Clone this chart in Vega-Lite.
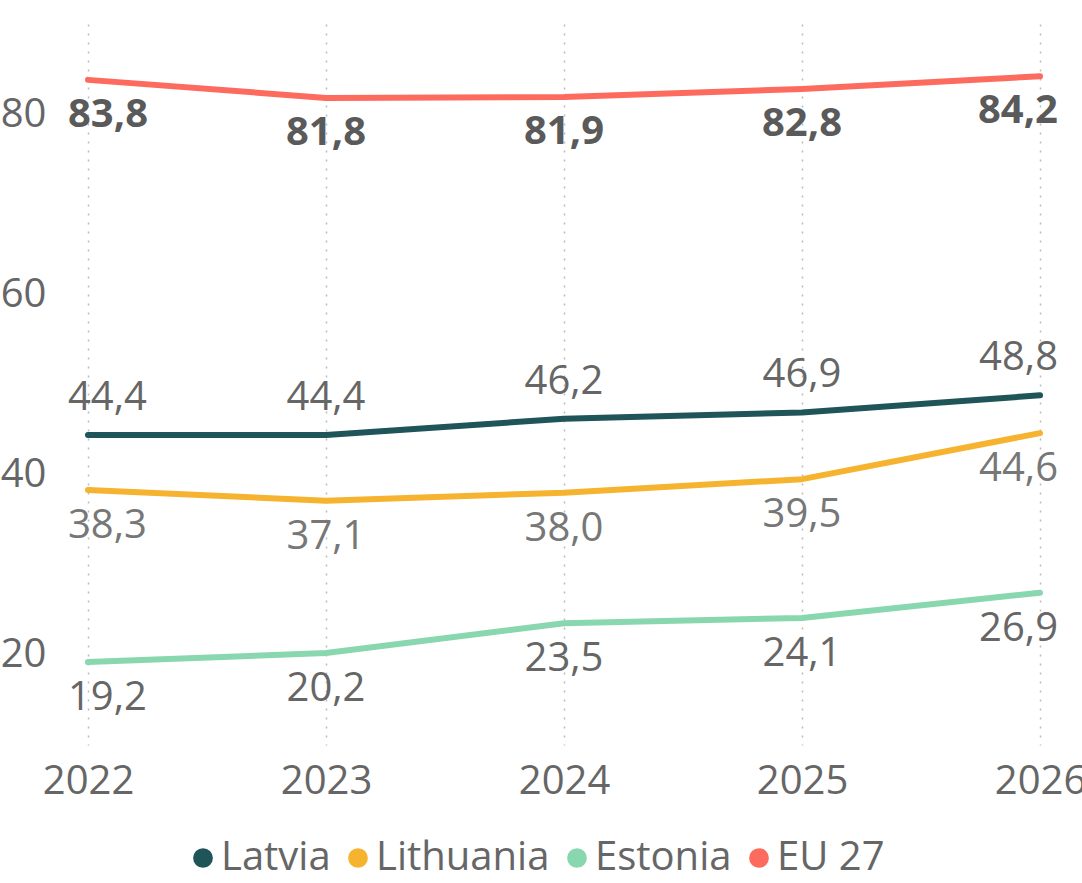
{
  "$schema": "https://vega.github.io/schema/vega-lite/v6.json",
  "width": 952,
  "height": 721,
  "autosize": {"type": "none"},
  "padding": {"left": 88, "top": 24, "right": 42, "bottom": 138},
  "background": "white",
  "config": {
    "locale": {"number": {"decimal": ",", "thousands": " ", "grouping": [3], "currency": ["", " €"]}},
    "view": {"stroke": null},
    "font": "Open Sans"
  },
  "data": {
    "values": [
      {"year": 2022, "series": "Latvia", "value": 44.4},
      {"year": 2023, "series": "Latvia", "value": 44.4},
      {"year": 2024, "series": "Latvia", "value": 46.2},
      {"year": 2025, "series": "Latvia", "value": 46.9},
      {"year": 2026, "series": "Latvia", "value": 48.8},
      {"year": 2022, "series": "Lithuania", "value": 38.3},
      {"year": 2023, "series": "Lithuania", "value": 37.1},
      {"year": 2024, "series": "Lithuania", "value": 38.0},
      {"year": 2025, "series": "Lithuania", "value": 39.5},
      {"year": 2026, "series": "Lithuania", "value": 44.6},
      {"year": 2022, "series": "Estonia", "value": 19.2},
      {"year": 2023, "series": "Estonia", "value": 20.2},
      {"year": 2024, "series": "Estonia", "value": 23.5},
      {"year": 2025, "series": "Estonia", "value": 24.1},
      {"year": 2026, "series": "Estonia", "value": 26.9},
      {"year": 2022, "series": "EU 27", "value": 83.8},
      {"year": 2023, "series": "EU 27", "value": 81.8},
      {"year": 2024, "series": "EU 27", "value": 81.9},
      {"year": 2025, "series": "EU 27", "value": 82.8},
      {"year": 2026, "series": "EU 27", "value": 84.2}
    ]
  },
  "encoding": {
    "x": {
      "field": "year", "type": "quantitative",
      "scale": {"domain": [2022, 2026], "nice": false, "zero": false},
      "axis": {
        "title": null, "values": [2022, 2023, 2024, 2025, 2026], "format": "d",
        "domain": false, "ticks": false,
        "labelFontSize": 40, "labelColor": "#666666", "labelPadding": 16,
        "labelFont": "Open Sans", "labelFlush": false, "labelOverlap": false,
        "grid": true, "gridColor": "#bbbbbb", "gridDash": [2, 7], "gridWidth": 1.5
      }
    },
    "y": {
      "field": "value", "type": "quantitative",
      "scale": {"domain": [10, 90], "nice": false, "zero": false},
      "axis": {
        "title": null, "values": [20, 40, 60, 80], "format": "d",
        "domain": false, "ticks": false, "grid": false,
        "labelFontSize": 40, "labelColor": "#666666", "labelPadding": 42,
        "labelFont": "Open Sans"
      }
    }
  },
  "layer": [
    {
      "mark": {"type": "line", "strokeWidth": 6, "strokeCap": "round", "strokeJoin": "round"},
      "encoding": {
        "color": {
          "field": "series", "type": "nominal",
          "scale": {"domain": ["Latvia", "Lithuania", "Estonia", "EU 27"], "range": ["#1f5459", "#f6b32f", "#89d7ae", "#fd6b5f"]},
          "legend": {
            "title": null, "orient": "none", "direction": "horizontal",
            "legendX": 95, "legendY": 814,
            "symbolType": "circle", "symbolSize": 400, "symbolStrokeWidth": 0, "symbolOpacity": 1,
            "labelFontSize": 40, "labelColor": "#666666", "labelFont": "Open Sans",
            "labelOffset": -2, "columnPadding": 7, "labelLimit": 400,
            "encode": {"symbols": {"update": {"fill": {"scale": "color", "field": "value"}, "size": {"value": 390}, "strokeWidth": {"value": 0}, "opacity": {"value": 1}}}}
          }
        }
      }
    },
    {
      "transform": [{"filter": "datum.series == 'Latvia'"}],
      "mark": {"type": "text", "fontSize": 40, "color": "#666666", "baseline": "middle", "dy": -37,
        "align": {"expr": "datum.year == 2022 ? 'left' : datum.year == 2026 ? 'right' : 'center'"},
        "dx": {"expr": "datum.year == 2022 ? -20 : datum.year == 2026 ? 18 : 0"}},
      "encoding": {"text": {"field": "value", "type": "quantitative", "format": ".1f"}}
    },
    {
      "transform": [{"filter": "datum.series == 'Lithuania'"}],
      "mark": {"type": "text", "fontSize": 40, "color": "#777777", "baseline": "middle", "dy": 36,
        "align": {"expr": "datum.year == 2022 ? 'left' : datum.year == 2026 ? 'right' : 'center'"},
        "dx": {"expr": "datum.year == 2022 ? -20 : datum.year == 2026 ? 18 : 0"}},
      "encoding": {"text": {"field": "value", "type": "quantitative", "format": ".1f"}}
    },
    {
      "transform": [{"filter": "datum.series == 'Estonia'"}],
      "mark": {"type": "text", "fontSize": 40, "color": "#666666", "baseline": "middle", "dy": 36,
        "align": {"expr": "datum.year == 2022 ? 'left' : datum.year == 2026 ? 'right' : 'center'"},
        "dx": {"expr": "datum.year == 2022 ? -20 : datum.year == 2026 ? 18 : 0"}},
      "encoding": {"text": {"field": "value", "type": "quantitative", "format": ".1f"}}
    },
    {
      "transform": [{"filter": "datum.series == 'EU 27'"}],
      "mark": {"type": "text", "fontSize": 40, "fontWeight": "bold", "color": "#5a5a5a", "baseline": "middle", "dy": 35,
        "align": {"expr": "datum.year == 2022 ? 'left' : datum.year == 2026 ? 'right' : 'center'"},
        "dx": {"expr": "datum.year == 2022 ? -20 : datum.year == 2026 ? 18 : 0"}},
      "encoding": {"text": {"field": "value", "type": "quantitative", "format": ".1f"}}
    }
  ]
}
